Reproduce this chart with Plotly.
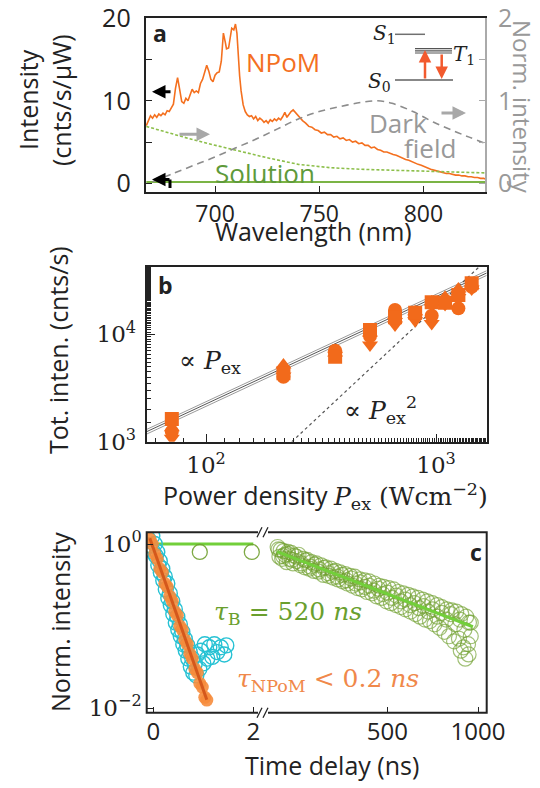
import plotly.graph_objects as go

W, H = 540, 788
def px(x): return x / W
def py(y): return 1 - y / H

SANS = "Open Sans"
SERIF = "DejaVu Serif"

# ---------------- Panel a data ----------------
wl_npom = [667.0, 668.0, 669.0, 670.0, 671.0, 672.0, 673.0, 674.0, 675.0, 676.0, 677.0, 678.0, 679.0, 680.0,
           681.0, 682.0, 683.0, 684.0, 685.0, 686.0, 687.0, 688.0, 689.0, 690.0, 691.0, 692.0, 693.0, 694.0,
           695.0, 696.0, 697.0, 698.0, 699.0, 700.0, 701.0, 702.0, 703.0, 704.0, 705.0, 705.5, 706.5, 707.3,
           708.0, 709.0, 709.8, 710.5, 711.0, 711.8, 712.5, 713.5, 714.5, 715.5, 716.5, 717.5, 718.5, 719.5,
           720.5, 721.5, 722.5, 723.5, 724.5, 725.5, 726.5, 727.5, 728.5, 729.5, 730.5, 731.5, 732.5, 733.5,
           734.5, 735.5, 736.5, 737.5, 738.5, 739.5, 740.5, 742.0, 743.5, 745.0, 746.5, 748.0, 749.5, 751.0,
           752.5, 754.0, 755.5, 757.0, 758.5, 760.0, 761.5, 763.0, 764.5, 766.0, 767.5, 769.0, 770.5, 772.0,
           773.5, 775.0, 776.5, 778.0, 779.5, 781.0, 782.5, 784.0, 785.5, 787.0, 788.5, 790.0, 791.5, 793.0,
           794.5, 796.0, 797.5, 799.0, 800.5, 802.0, 803.5, 805.0, 806.5, 808.0, 809.5, 811.0, 812.5, 814.0,
           815.5, 817.0, 818.5, 820.0, 821.5, 823.0, 824.5, 826.0, 827.5, 829.0, 830.0]
int_npom = [7.0, 7.6, 8.2, 7.9, 8.3, 8.0, 8.4, 8.2, 8.5, 8.3, 8.8, 8.7, 9.2, 9.6,
            11.5, 12.8, 11.4, 9.9, 9.7, 10.3, 10.0, 10.6, 11.4, 11.0, 11.2, 11.0, 12.1, 12.6,
            13.5, 14.3, 13.6, 12.6, 12.3, 13.1, 13.4, 13.5, 14.8, 18.2, 17.0, 16.3, 16.4, 18.0,
            18.8, 18.6, 19.3, 18.2, 16.0, 13.0, 11.2, 9.5, 8.7, 8.3, 8.1, 8.2, 7.8, 8.1,
            7.6, 7.9, 7.7, 7.4, 7.6, 7.3, 7.7, 7.5, 7.8, 7.6, 7.9, 7.7, 8.1, 8.6,
            8.0, 8.4, 8.7, 8.9, 8.6, 8.4, 8.0, 7.6, 7.3, 6.9, 6.8, 6.5, 6.4, 6.1,
            6.2, 5.9, 5.9, 5.6, 5.7, 5.4, 5.5, 5.2, 5.3, 5.0, 5.1, 4.8, 4.9, 4.6,
            4.6, 4.3, 4.4, 4.1, 4.0, 3.8, 3.8, 3.6, 3.5, 3.4, 3.2, 3.1, 2.9, 2.8,
            2.6, 2.5, 2.3, 2.2, 2.0, 1.9, 1.7, 1.6, 1.5, 1.4, 1.3, 1.2, 1.2, 1.1,
            1.0, 1.0, 0.9, 0.9, 0.8, 0.8, 0.7, 0.7, 0.6, 0.6, 0.5]

wl_dark = [670, 680, 690, 700, 710, 720, 730, 740, 750, 760, 770, 778, 785, 795, 805, 815, 822, 830]
dark_norm = [0.02, 0.12, 0.22, 0.32, 0.43, 0.54, 0.66, 0.78, 0.87, 0.93, 0.98, 1.0, 0.97, 0.87, 0.74, 0.63, 0.56, 0.48]

wl_abs = [667, 675, 685, 697, 710, 725, 740, 755, 770, 785, 800, 815, 830]
abs_norm = [0.69, 0.63, 0.56, 0.48, 0.40, 0.31, 0.23, 0.19, 0.17, 0.158, 0.145, 0.135, 0.126]

wl_sol = [667, 830]
int_sol = [0.15, 0.15]

# ---------------- Panel b data ----------------
power = [71, 217, 364, 516, 663, 811, 957, 1094, 1250, 1428]
tot_square = [1630, 4330, 6180, 10960, 14400, 15900, 19860, 19700, 23200, 29850]
tot_circle = [1240, 4030, 7030, 9640, 16830, 15000, 14900, 20500, 17460, 27700]
tot_tri_up = [1350, 5180, 6700, 10300, 15000, 16200, 20000, 22100, 26400, 28500]
tot_tri_dn = [1075, 4100, 6400, 7940, 12200, 13400, 12650, 19000, 22000, 26500]
fit_power = [55.2, 1660]
fit_mid = [1240, 37290]
fit_lo = [1178, 35430]
fit_hi = [1302, 39150]
quad_power = [236, 1600]
quad_int = [1000, 45950]

# ---------------- Panel c data ----------------
blue_t_short = [-0.07, 0.93, 1.97]
blue_y_short = [0.97, 0.80, 0.80]
blue_flat_t = [-0.13, 2.0]
blue_flat_y = [1.0, 1.0]

cyan_t = [-0.10, -0.06, -0.02, 0.0, 0.03, 0.05, 0.08, 0.10, 0.13, 0.15, 0.18, 0.20, 0.23, 0.25, 0.28, 0.30,
          0.33, 0.35, 0.38, 0.40, 0.43, 0.45, 0.48, 0.50, 0.53, 0.55, 0.58, 0.60, 0.63, 0.65, 0.68, 0.70,
          0.73, 0.75, 0.78, 0.80, 0.83, 0.86, 0.88, 0.92, 0.95, 1.00, 1.03, 1.08, 1.12, 1.18, 1.22, 1.28,
          1.35, 1.42, 1.46]
cyan_y = [1.15, 0.95, 1.25, 0.80, 1.0, 0.72, 0.80, 0.55, 0.62, 0.45, 0.50, 0.36, 0.40, 0.28, 0.33, 0.22,
          0.25, 0.18, 0.20, 0.14, 0.16, 0.11, 0.13, 0.09, 0.105, 0.075, 0.085, 0.06, 0.07, 0.05, 0.058, 0.04,
          0.048, 0.032, 0.04, 0.027, 0.035, 0.025, 0.045, 0.03, 0.05, 0.035, 0.06, 0.04, 0.055, 0.042, 0.06, 0.048,
          0.055, 0.045, 0.058]

npom_t = [-0.07, -0.02, 0.03, 0.08, 0.13, 0.18, 0.23, 0.28, 0.33, 0.38, 0.43, 0.48, 0.53, 0.58, 0.63, 0.68,
          0.73, 0.78, 0.83, 0.88, 0.93, 0.98, 1.03, 1.07]
npom_y = [1.15, 1.0, 0.76, 0.66, 0.50, 0.45, 0.33, 0.30, 0.23, 0.20, 0.15, 0.135, 0.10, 0.09, 0.068, 0.06,
          0.046, 0.040, 0.030, 0.027, 0.020, 0.018, 0.0135, 0.0125]
npom_fit_t = [-0.07, 1.07]
npom_fit_y = [1.18, 0.0126]

blue_t_long = [-105, -95, -88, -80, -72, -65, -55, -48, -40, -30, -20, -12, 0, 10, 22, 35, 45, 58, 70, 82,
               95, 108, 120, 135, 148, 160, 175, 188, 200, 215, 228, 240, 255, 268, 280, 295, 308, 320, 335,
               348, 360, 375, 388, 400, 415, 428, 440, 455, 468, 480, 495, 508, 520, 535, 548, 560, 575, 588,
               600, 615, 628, 640, 655, 668, 680, 695, 708, 720, 735, 748, 760, 775, 788, 800, 815, 828, 840,
               855, 868, 880, 895, 908, 920, 935, 948, 960,
               -100, -75, -50, -25, 0, 25, 50, 75, 100, 125, 150, 175, 200, 225, 250, 275, 300, 325, 350, 375,
               400, 425, 450, 475, 500, 525, 550, 575, 600, 625, 650, 675, 700, 725, 750, 775, 800, 825, 850,
               875, 900, 925, 950, 905, 930, 945, 960]
blue_y_long = [0.92, 0.70, 0.85, 0.66, 0.82, 0.74, 0.60, 0.80, 0.66, 0.78, 0.58, 0.72, 0.62, 0.74, 0.55, 0.66,
               0.52, 0.64, 0.50, 0.60, 0.47, 0.58, 0.46, 0.55, 0.42, 0.52, 0.41, 0.50, 0.39, 0.47, 0.37, 0.45,
               0.35, 0.43, 0.33, 0.41, 0.31, 0.40, 0.29, 0.37, 0.28, 0.36, 0.26, 0.35, 0.25, 0.33, 0.23, 0.31,
               0.22, 0.30, 0.20, 0.29, 0.19, 0.28, 0.18, 0.26, 0.17, 0.25, 0.16, 0.24, 0.15, 0.23, 0.14, 0.22,
               0.13, 0.21, 0.12, 0.20, 0.115, 0.19, 0.105, 0.18, 0.095, 0.17, 0.085, 0.16, 0.075, 0.155, 0.065,
               0.15, 0.07, 0.14, 0.055, 0.13, 0.045, 0.11,
               0.86, 0.71, 0.76, 0.64, 0.70, 0.58, 0.63, 0.53, 0.56, 0.49, 0.51, 0.44, 0.46, 0.40, 0.42, 0.36,
               0.38, 0.33, 0.34, 0.30, 0.31, 0.27, 0.285, 0.245, 0.255, 0.22, 0.235, 0.20, 0.21, 0.18, 0.19,
               0.165, 0.175, 0.15, 0.16, 0.13, 0.145, 0.12, 0.14, 0.105, 0.12, 0.09, 0.11, 0.05, 0.04, 0.06, 0.075]
blue_fit_t = [-108, 972]
blue_fit_y = [0.806, 0.098]

ORANGE = "#f4701f"
GREEN_LINE = "#7bb445"
GREEN_TXT = "#5e9a3a"
GRAY = "#999999"
AX = "#222222"

fig = go.Figure()

# ---- Panel a traces ----
fig.add_trace(go.Scatter(x=wl_abs, y=abs_norm, mode="lines", xaxis="x", yaxis="y2",
                         line=dict(color="#8cbf4a", width=1.6, dash="3px,2px")))
fig.add_trace(go.Scatter(x=wl_dark, y=dark_norm, mode="lines", xaxis="x", yaxis="y2", line_shape="spline",
                         line=dict(color="#8c8c8c", width=1.6, dash="7px,5px")))
fig.add_trace(go.Scatter(x=wl_sol, y=int_sol, mode="lines", xaxis="x", yaxis="y",
                         line=dict(color=GREEN_LINE, width=2)))
fig.add_trace(go.Scatter(x=wl_npom, y=int_npom, mode="lines", xaxis="x", yaxis="y",
                         line=dict(color=ORANGE, width=1.6)))

# ---- Panel b traces ----
for ys, c in [(fit_lo, "#9a9a9a"), (fit_hi, "#9a9a9a"), (fit_mid, "#555555")]:
    fig.add_trace(go.Scatter(x=fit_power, y=ys, mode="lines", xaxis="x3", yaxis="y3",
                             line=dict(color=c, width=1)))
fig.add_trace(go.Scatter(x=quad_power, y=quad_int, mode="lines", xaxis="x3", yaxis="y3",
                         line=dict(color="#555555", width=1.2, dash="dot")))
for ys, sym in [(tot_tri_dn, "triangle-down"), (tot_tri_up, "triangle-up"),
                (tot_circle, "circle"), (tot_square, "square")]:
    fig.add_trace(go.Scatter(x=power, y=ys, mode="markers", xaxis="x3", yaxis="y3",
                             marker=dict(symbol=sym, size=14, color="#f26a1b", line=dict(width=0))))

# ---- Panel c traces ----
fig.add_trace(go.Scatter(x=blue_t_long, y=blue_y_long, mode="markers", xaxis="x5", yaxis="y4",
                         marker=dict(symbol="circle-open", size=15, color="rgba(112,160,48,0.65)",
                                     line=dict(width=1.2))))
fig.add_trace(go.Scatter(x=blue_fit_t, y=blue_fit_y, mode="lines", xaxis="x5", yaxis="y4",
                         line=dict(color="#72cf3a", width=3)))
fig.add_trace(go.Scatter(x=blue_flat_t, y=blue_flat_y, mode="lines", xaxis="x4", yaxis="y4",
                         line=dict(color="#72cf3a", width=3)))
fig.add_trace(go.Scatter(x=blue_t_short, y=blue_y_short, mode="markers", xaxis="x4", yaxis="y4",
                         marker=dict(symbol="circle-open", size=15, color="rgba(112,160,48,0.9)",
                                     line=dict(width=1.3))))
fig.add_trace(go.Scatter(x=cyan_t, y=cyan_y, mode="markers", xaxis="x4", yaxis="y4",
                         marker=dict(symbol="circle-open", size=15, color="#27c2d4", line=dict(width=1.4))))
fig.add_trace(go.Scatter(x=npom_t, y=npom_y, mode="markers", xaxis="x4", yaxis="y4",
                         marker=dict(symbol="circle", size=13, color="rgba(246,140,60,0.9)", line=dict(width=0))))
fig.add_trace(go.Scatter(x=npom_fit_t, y=npom_fit_y, mode="lines", xaxis="x4", yaxis="y4",
                         line=dict(color="#d4581c", width=3)))

tickf_sans = dict(family=SANS, size=23, color=AX)
tickf_serif = dict(family=SERIF, size=23, color=AX)

common = dict(automargin=False, showgrid=False, zeroline=False)

fig.update_layout(
    template="none",
    width=W, height=H, margin=dict(l=0, r=0, t=0, b=0, pad=0), autosize=False,
    paper_bgcolor="white", plot_bgcolor="white", showlegend=False,
    font=dict(family=SANS, color=AX),
    # panel a
    xaxis=dict(domain=[px(145.7), px(485)], range=[666.7, 829.6], anchor="y",
               tickvals=[700, 750, 800], ticks="inside", ticklen=6, tickcolor=AX,
               showline=True, linecolor=AX, linewidth=2, mirror=True,
               tickfont=tickf_sans, ticklabelstandoff=0, **common),
    yaxis=dict(domain=[py(192), py(18.3)], range=[-1.05, 20], anchor="x",
               tickvals=[0, 5, 10, 15, 20], ticktext=["0", "", "10", "", "20"],
               ticks="inside", ticklen=6, tickcolor=AX, showline=True, linecolor=AX, linewidth=2,
               tickfont=dict(family=SANS, size=25, color=AX), ticklabelstandoff=8, **common),
    yaxis2=dict(overlaying="y", side="right", anchor="x", range=[-0.105, 2.0],
                tickvals=[0, 0.5, 1, 1.5, 2], ticktext=["0", "", "1", "", "2"],
                ticks="inside", ticklen=6, tickcolor="#aaaaaa", showline=True, linecolor="#aaaaaa",
                linewidth=2, tickfont=dict(family=SANS, size=25, color="#999999"), ticklabelstandoff=6,
                **common),
    # panel b
    xaxis3=dict(domain=[px(146.7), px(486.7)], type="log", range=[1.742, 3.220], anchor="y3",
                tickvals=[100, 1000], ticktext=["10<sup>2</sup>", "10<sup>3</sup>"],
                ticks="inside", ticklen=8, tickcolor=AX,
                minor=dict(ticks="inside", ticklen=4, tickcolor=AX, showgrid=False),
                showline=True, linecolor=AX, linewidth=2, mirror=True,
                tickfont=tickf_serif, ticklabelstandoff=2, **common),
    yaxis3=dict(domain=[py(441.7), py(266.7)], type="log", range=[3.0, 4.63], anchor="x3",
                tickvals=[1000, 10000], ticktext=["10<sup>3</sup>", "10<sup>4</sup>"],
                ticks="inside", ticklen=8, tickcolor=AX,
                minor=dict(ticks="inside", ticklen=4, tickcolor=AX, showgrid=False),
                showline=True, linecolor=AX, linewidth=2, mirror=True,
                tickfont=tickf_serif, ticklabelstandoff=4, **common),
    # panel c
    xaxis4=dict(domain=[px(146.7), px(263.3)], range=[-0.132, 2.2], anchor="y4",
                tickvals=[0, 2], ticks="inside", ticklen=6, tickcolor=AX, showline=False,
                tickfont=dict(family=SANS, size=24, color=AX), ticklabelstandoff=2, **common),
    xaxis5=dict(domain=[px(263.3), px(486.7)], range=[-184, 1048], anchor="y4",
                tickvals=[500, 1000], ticks="inside", ticklen=6, tickcolor=AX, showline=False,
                tickfont=dict(family=SANS, size=24, color=AX), ticklabelstandoff=2, **common),
    yaxis4=dict(domain=[py(712.7), py(532.3)], type="log", range=[-2.057, 0.143], anchor="x4",
                tickvals=[1, 0.01], ticktext=["10<sup>0</sup>", "10<sup>−2</sup>"],
                ticks="inside", ticklen=6, tickcolor=AX, showline=False,
                tickfont=tickf_serif, ticklabelstandoff=4, **common),
)

shapes = []
def pline(x0, y0, x1, y1, color, width, dash=None):
    d = dict(type="line", xref="paper", yref="paper", x0=px(x0), y0=py(y0), x1=px(x1), y1=py(y1),
             line=dict(color=color, width=width))
    if dash:
        d["line"]["dash"] = dash
    shapes.append(d)

shapes.append(dict(type="rect", xref="paper", yref="paper", x0=px(146.7), y0=py(712.7), x1=px(486.7), y1=py(532.3),
                   line=dict(color=AX, width=2)))
for yb in (532.3, 712.7):
    pline(258, yb, 268, yb, "white", 4)
    pline(257, yb + 5, 262, yb - 5, AX, 1.3)
    pline(263, yb + 5, 268, yb - 5, AX, 1.3)

pline(395, 34.3, 425, 34.3, "#707070", 1.5)
for yy in (48.6, 50.8, 53.0):
    pline(415, yy, 452, yy, "#555555", 1.2)
pline(395, 80, 453, 80, "#888888", 2.2)
pline(170, 179.5, 170, 188, "black", 3)
fig.update_layout(shapes=shapes)

ann = []
def txt(x, y, s, size=25, color=AX, family=SANS, angle=0, xanchor="center", yanchor="middle"):
    ann.append(dict(x=px(x), y=py(y), xref="paper", yref="paper", text=s, showarrow=False,
                    font=dict(family=family, size=size, color=color), textangle=angle,
                    xanchor=xanchor, yanchor=yanchor))

def arrow(xh, yh, xt, yt, color, width=3, head=2, size=1):
    ann.append(dict(x=px(xh), y=py(yh), xref="paper", yref="paper", ax=xt - xh, ay=yt - yh,
                    axref="pixel", ayref="pixel", text="", showarrow=True, arrowhead=head,
                    arrowsize=size, arrowwidth=width, arrowcolor=color))

txt(160, 33, "<b>a</b>", 23)
txt(283, 62, "NPoM", 26, ORANGE)
txt(265, 173, "Solution", 26, GREEN_TXT)
txt(398, 123, "Dark", 26, GRAY)
txt(430, 148, "field", 26, GRAY)
txt(384, 34, "<i>S</i><sub>1</sub>", 20, AX, SERIF)
txt(464, 55, "<i>T</i><sub>1</sub>", 20, AX, SERIF)
txt(379, 82, "<i>S</i><sub>0</sub>", 20, AX, SERIF)
txt(28, 100, "Intensity", 25, AX, SANS, -90)
txt(61, 100, "(cnts/s/μW)", 25, AX, SANS, -90)
txt(523, 107, "Norm. intensity", 24, GRAY, SANS, 90)
txt(313, 231, "Wavelength (nm)", 25)
arrow(425, 50, 425, 80, "#f25a2e", 2.5, 2, 1)
arrow(441.7, 79, 441.7, 53, "#f25a2e", 2.5, 2, 1)
arrow(152, 91.7, 172, 91.7, "black", 3, 2, 0.9)
arrow(210, 134.3, 178, 134.3, "#a8a8a8", 3, 2, 0.9)
arrow(466, 113, 440, 113, "#a8a8a8", 3, 2, 0.9)
arrow(152, 179.5, 171, 179.5, "black", 3, 2, 0.9)

txt(165, 285, "<b>b</b>", 23)
txt(210, 362, "∝ <i>P</i><sub>ex</sub>", 25, AX, SERIF)
txt(380, 410, "∝ <i>P</i><sub>ex</sub><sup>2</sup>", 25, AX, SERIF)
txt(58, 350, "Tot. inten. (cnts/s)", 25, AX, SANS, -90)
txt(325, 496, "Power density <span style='font-family:DejaVu Serif'><i>P</i><sub>ex</sub> (Wcm<sup>−2</sup>)</span>", 25)

txt(476, 552, "<b>c</b>", 23)
txt(288, 613, "<i>τ</i><sub>B</sub> = 520 <i>ns</i>", 25, "#6a9f2e", SERIF)
txt(328, 680, "<i>τ</i><sub>NPoM</sub> &lt; 0.2 <i>ns</i>", 25, "#f0884a", SERIF)
txt(60, 622, "Norm. intensity", 25, AX, SANS, -90)
txt(332, 765, "Time delay (ns)", 25)

fig.update_layout(annotations=ann)
fig.write_html("out.html", config={"displayModeBar": False},
               post_script="document.body.style.margin='0';document.body.style.padding='0';"
                           "document.body.style.overflow='hidden';")
